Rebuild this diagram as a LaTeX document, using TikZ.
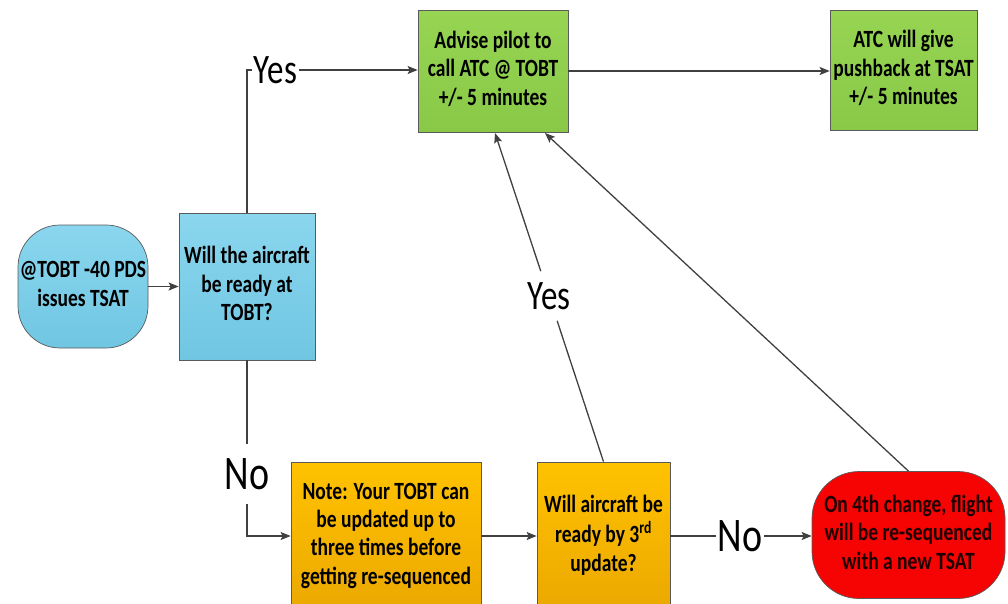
\documentclass[tikz,border=0pt]{standalone}
\usepackage{fontspec}
\setmainfont{Carlito}
\usetikzlibrary{arrows.meta,calc}
\definecolor{bluetop}{RGB}{138,214,238}
\definecolor{bluebot}{RGB}{112,198,226}
\definecolor{greentop}{RGB}{150,212,82}
\definecolor{greenbot}{RGB}{138,200,72}
\definecolor{orangetop}{RGB}{255,194,0}
\definecolor{orangebot}{RGB}{236,168,0}
\definecolor{redfill}{RGB}{246,4,4}
\definecolor{boxline}{RGB}{90,90,90}
\definecolor{linecol}{RGB}{64,64,64}
\definecolor{redtext}{RGB}{30,0,0}
\newcommand{\vtxt}[1]{\scalebox{1}[1.27]{\begin{tabular}{@{}c@{}}#1\end{tabular}}}
\newcommand{\vlbl}[1]{\scalebox{1}[1.27]{#1}}
\begin{document}
\begin{tikzpicture}[x=1pt,y=-1pt,
  box/.style={draw=boxline, line width=0.7pt, inner sep=0pt,
    font=\fontsize{19.5}{22.4}\selectfont\bfseries},
  bluebox/.style={box, top color=bluetop, bottom color=bluebot},
  greenbox/.style={box, top color=greentop, bottom color=greenbot},
  orangebox/.style={box, top color=orangetop, bottom color=orangebot},
  redbox/.style={box, fill=redfill, text=redtext},
  conn/.style={draw=linecol, line width=1.3pt},
  arr/.style={conn, -{Stealth[length=10pt,width=8pt,inset=2pt]}},
  yeslbl/.style={inner xsep=1.5pt, inner ysep=11pt, font=\fontsize{33}{36}\selectfont},
  nolbl/.style={inner xsep=2pt, inner ysep=14pt, font=\fontsize{38}{40}\selectfont}]
\useasboundingbox (0,0) rectangle (1008,603);

\node[bluebox, rounded corners=42pt, minimum width=130pt, minimum height=123pt]
  (start) at (83,286.5) {\vtxt{@TOBT -40 PDS\\issues TSAT}};
\node[bluebox, minimum width=136pt, minimum height=147pt]
  (will) at (247,286.5) {\vtxt{Will the aircraft\\be ready at\\TOBT?}};
\node[greenbox, minimum width=150pt, minimum height=122pt]
  (advise) at (493,71) {\vtxt{Advise pilot to\\call ATC @ TOBT\\+/- 5 minutes}};
\node[greenbox, minimum width=147pt, minimum height=120pt]
  (atc) at (903.5,70.5) {\vtxt{ATC will give\\pushback at TSAT\\+/- 5 minutes}};
\node[orangebox, minimum width=190pt, minimum height=148pt]
  (note) at (386,536) {\vtxt{Note: Your TOBT can\\be updated up to\\three times before\\getting re-sequenced}};
\node[orangebox, minimum width=133pt, minimum height=148pt]
  (will3) at (603.5,536) {\vtxt{Will aircraft be\\ready by 3\textsuperscript{rd}\\update?}};
\node[redbox, rounded corners=47pt, minimum width=193pt, minimum height=127pt]
  (red) at (908.5,535) {\vtxt{On 4th change, flight\\will be re-sequenced\\with a new TSAT}};

\node[yeslbl] (yes1) at (275.5,70) {\vlbl{Yes}};
\node[yeslbl] (yes2) at (549,296) {\vlbl{Yes}};
\node[nolbl] (no1) at (247,474) {\vlbl{No}};
\node[nolbl] (no2) at (740,536) {\vlbl{No}};

\coordinate (t1) at (495,133);
\coordinate (t2) at (545,133);

\draw[arr] (start.east) -- (start.east -| will.west);
\draw[conn] (will.north) |- (yes1.west);
\draw[arr] (yes1.east) -- (yes1.east -| advise.west);
\draw[arr] (advise.east) -- (advise.east -| atc.west);
\draw[conn] (will.south) -- (no1.north);
\draw[arr] (no1.south) |- (note.west);
\draw[arr] (note.east) -- (will3.west);
\draw[conn] (will3.east) -- (no2.west);
\draw[arr] (no2.east) -- (no2.east -| red.west);
\draw[conn] (will3.north) -- (yes2);
\draw[arr] (yes2) -- (t1);
\draw[arr] (red.north) -- (t2);
\end{tikzpicture}
\end{document}
